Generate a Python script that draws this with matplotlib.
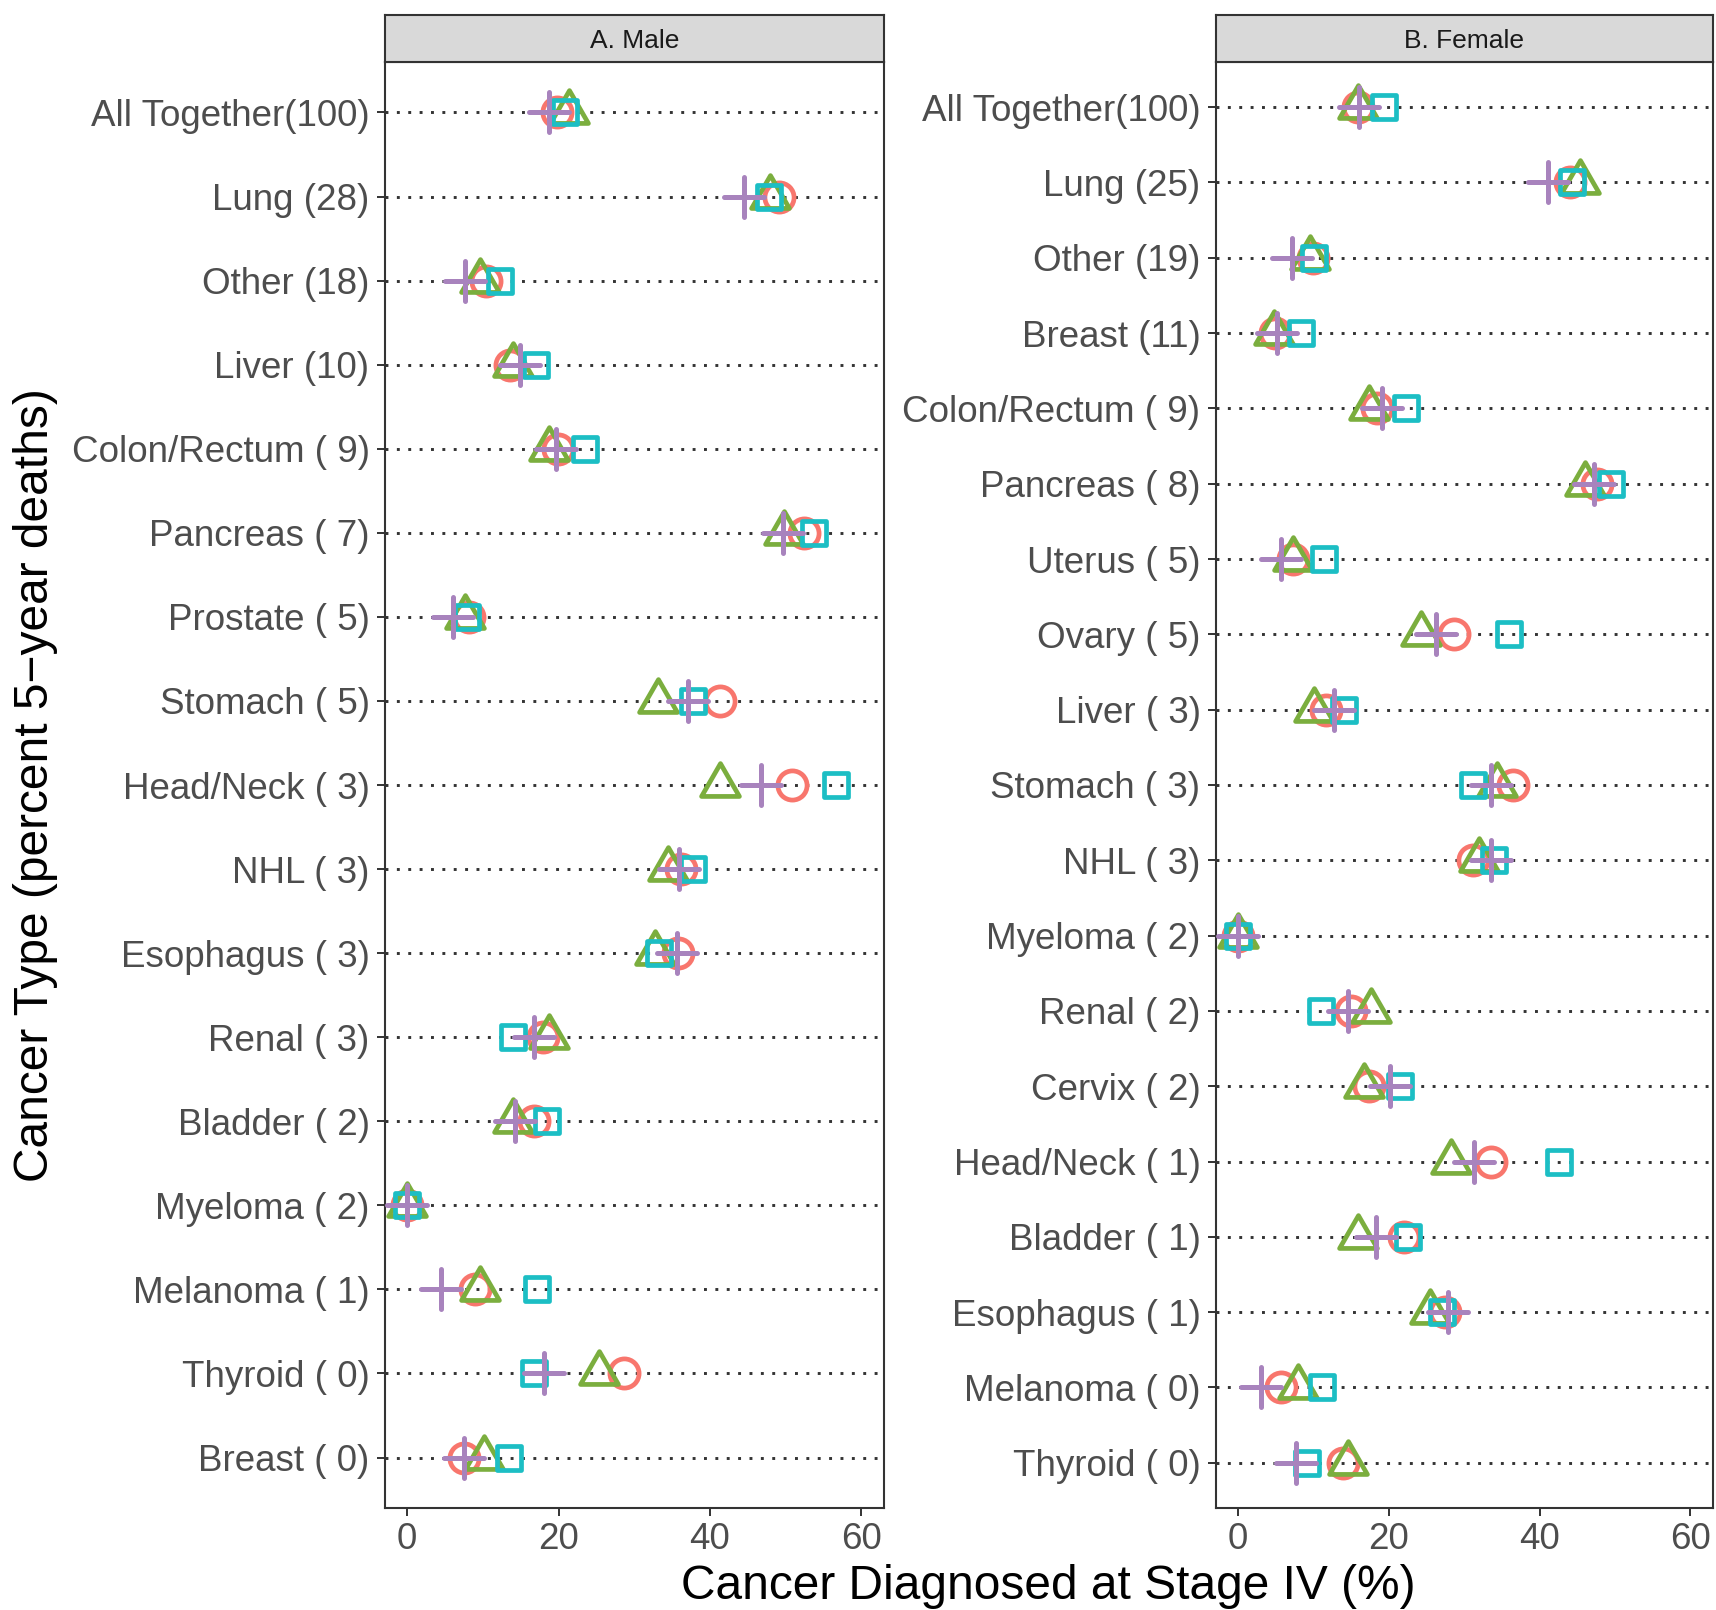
import matplotlib
matplotlib.use("Agg")
import matplotlib.pyplot as plt
from matplotlib.path import Path
from matplotlib.markers import MarkerStyle

plt.rcParams['font.family'] = ['Liberation Sans', 'DejaVu Sans']

# ---------------- data ----------------
male_labels = ["All Together(100)", "Lung (28)", "Other (18)", "Liver (10)",
               "Colon/Rectum ( 9)", "Pancreas ( 7)", "Prostate ( 5)", "Stomach ( 5)",
               "Head/Neck ( 3)", "NHL ( 3)", "Esophagus ( 3)", "Renal ( 3)",
               "Bladder ( 2)", "Myeloma ( 2)", "Melanoma ( 1)", "Thyroid ( 0)",
               "Breast ( 0)"]
male_circle = [19.8, 49.1, 10.4, 13.6, 19.9, 52.4, 8.2, 41.3, 50.9, 36.2, 35.8,
               18.0, 16.8, 0.0, 8.9, 28.6, 7.5]
male_triangle = [21.4, 47.9, 9.6, 14.0, 18.7, 49.8, 7.7, 33.2, 41.3, 34.4, 32.8,
                 18.8, 14.0, 0.0, 9.6, 25.4, 10.1]
male_square = [20.9, 47.8, 12.3, 17.0, 23.5, 53.7, 7.9, 37.7, 56.6, 37.7, 33.3,
               14.0, 18.5, 0.0, 17.1, 16.8, 13.4]
male_plus = [18.8, 44.5, 7.7, 14.9, 19.6, 49.6, 6.0, 37.1, 46.8, 35.9, 35.7,
             16.8, 14.3, 0.0, 4.5, 18.1, 7.5]

female_labels = ["All Together(100)", "Lung (25)", "Other (19)", "Breast (11)",
                 "Colon/Rectum ( 9)", "Pancreas ( 8)", "Uterus ( 5)", "Ovary ( 5)",
                 "Liver ( 3)", "Stomach ( 3)", "NHL ( 3)", "Myeloma ( 2)",
                 "Renal ( 2)", "Cervix ( 2)", "Head/Neck ( 1)", "Bladder ( 1)",
                 "Esophagus ( 1)", "Melanoma ( 0)", "Thyroid ( 0)"]
female_circle = [15.9, 44.0, 9.9, 4.9, 18.4, 47.6, 7.3, 28.6, 11.7, 36.5, 31.1,
                 0.0, 15.0, 17.3, 33.5, 22.0, 27.4, 5.7, 13.9]
female_triangle = [15.9, 45.4, 9.6, 4.7, 17.3, 46.0, 7.3, 24.3, 10.1, 34.3, 32.0,
                   0.0, 17.6, 16.7, 28.2, 15.9, 25.5, 7.9, 14.6]
female_square = [19.4, 44.3, 10.1, 8.3, 22.3, 49.5, 11.4, 35.9, 14.1, 31.1, 33.9,
                  0.0, 11.0, 21.5, 42.6, 22.5, 27.1, 11.1, 9.1]
female_plus = [16.0, 41.1, 7.1, 5.1, 19.1, 47.2, 5.7, 26.3, 12.7, 33.5, 33.6,
               0.0, 14.6, 20.2, 31.3, 18.3, 27.8, 3.0, 7.7]

x_ticks = [0, 20, 40, 60]
panel_titles = ["A. Male", "B. Female"]
x_title = "Cancer Diagnosed at Stage IV (%)"
y_title = "Cancer Type (percent 5\u2212year deaths)"

# ---------------- styling ----------------
C_RED = "#F8766D"
C_GREEN = "#7BAE3E"
C_CYAN = "#1CBEC4"
C_PURPLE = "#A883BD"
EDGE = "#333333"

tri_path = Path([(0, 1.0), (-0.864, -0.5), (0.864, -0.5), (0, 1.0)],
                [Path.MOVETO, Path.LINETO, Path.LINETO, Path.CLOSEPOLY])
tri_marker = MarkerStyle(tri_path, joinstyle='round')
sq_marker = MarkerStyle('s', fillstyle='none', joinstyle='round')
plus_marker = MarkerStyle('+', capstyle='round')

W, H = 1716, 1610
fig = plt.figure(figsize=(W / 100, H / 100), dpi=100)

panel_top, panel_bot = 62, 1508
strip_top = 15
panels = [
    (384.5, 499.5, male_labels, male_circle, male_triangle, male_square, male_plus),
    (1215.5, 497.5, female_labels, female_circle, female_triangle, female_square, female_plus),
]

MEW = 3.4
for i, (left, width, labels, circ, tri, sq, plus) in enumerate(panels):
    ax = fig.add_axes([left / W, (H - panel_bot) / H, width / W,
                       (panel_bot - panel_top) / H])
    n = len(labels)
    ys = list(range(n))
    for yv in ys:
        ax.axhline(yv, color=EDGE, lw=2.1, linestyle=(0, (1, 2.9)), zorder=1)
    ax.plot(circ, ys, linestyle='none', marker='o', ms=21, mfc='none',
            mec=C_RED, mew=MEW, zorder=3)
    ax.plot(tri, ys, linestyle='none', marker=tri_marker, ms=31.5, mfc='none',
            mec=C_GREEN, mew=MEW, zorder=4)
    ax.plot(sq, ys, linestyle='none', marker=sq_marker, ms=17.6, mfc='none',
            mec=C_CYAN, mew=MEW, zorder=5)
    ax.plot(plus, ys, linestyle='none', marker=plus_marker, ms=29.5,
            mec=C_PURPLE, mew=MEW + 0.2, zorder=6)
    ax.set_xlim(-3, 63)
    ax.set_ylim(n - 1 + 0.6, -0.6)
    ax.set_yticks(ys)
    ax.set_yticklabels(labels)
    ax.set_xticks(x_ticks)
    ax.set_xticklabels([str(t) for t in x_ticks])
    ax.tick_params(axis='y', labelsize=26.5, labelcolor='#4D4D4D', color=EDGE,
                   length=5.8, width=1.4, pad=5)
    ax.tick_params(axis='x', labelsize=26.5, labelcolor='#4D4D4D', color=EDGE,
                   length=5.8, width=1.4, pad=4)
    for sp in ax.spines.values():
        sp.set_color(EDGE)
        sp.set_linewidth(1.5)
    ax.set_facecolor('white')

    # strip
    sax = fig.add_axes([left / W, (H - panel_top) / H, width / W,
                        (panel_top - strip_top) / H])
    sax.set_facecolor('#D9D9D9')
    sax.set_xticks([])
    sax.set_yticks([])
    for sp in sax.spines.values():
        sp.set_color(EDGE)
        sp.set_linewidth(1.5)
    sax.text(0.5, 0.45, panel_titles[i], transform=sax.transAxes, ha='center',
             va='center', fontsize=19, color='#1A1A1A')

fig.text(1048.5 / W, (H - 1586) / H, x_title, ha='center', va='center',
         fontsize=34.5, color='black')
fig.text(36 / W, (H - 785) / H, y_title, ha='center', va='center',
         rotation=90, fontsize=34.5, color='black')

fig.savefig("out.png", dpi=100, facecolor='white')
